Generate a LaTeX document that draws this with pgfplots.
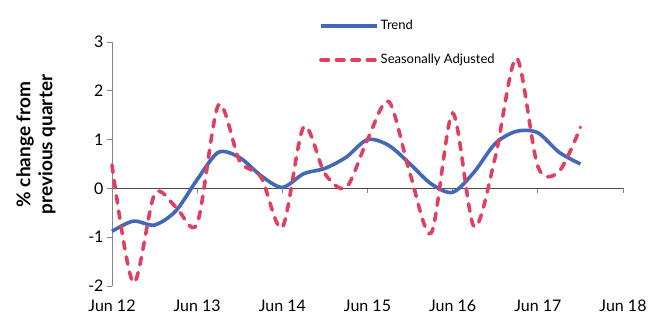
\documentclass[border=0pt]{standalone}
\usepackage{pgfplots}
\pgfplotsset{compat=1.18}
\usepackage{fontspec}
\setmainfont{Lato}
\definecolor{trendblue}{RGB}{68,104,184}
\definecolor{sared}{RGB}{224,64,96}
\definecolor{axgray}{RGB}{134,134,134}
\begin{document}
\begin{tikzpicture}
\useasboundingbox (-112bp,-31bp) rectangle (537bp,286bp);
\begin{axis}[
  at={(0,0)}, anchor=south west,
  scale only axis, width=511bp, height=244bp,
  xmin=0, xmax=24, ymin=-2, ymax=3,
  axis y line=left, axis x line=middle,
  axis line style={-, draw=axgray, line width=0.8pt},
  x axis line style={draw=black!70},
  xtick={0,4,8,12,16,20,24},
  xticklabels={Jun 12,Jun 13,Jun 14,Jun 15,Jun 16,Jun 17,Jun 18},
  hide obscured x ticks=false,
  ytick={-2,-1,0,1,2,3},
  yticklabels={{-2},{-1},0,1,2,3},
  tick align=outside,
  major tick length=5bp,
  tick style={draw=axgray, line width=0.8pt},
  xticklabel style={font=\fontsize{16bp}{18bp}\selectfont, yshift=-103bp},
  yticklabel style={font=\fontsize{16bp}{18bp}\selectfont},
  ylabel={\% change from\\previous quarter},
  ylabel style={font=\bfseries\fontsize{19bp}{22bp}\selectfont, align=center, at={(axis description cs:-0.149,0.58)}, anchor=center, rotate=0},
  clip=false,
  legend style={at={(axis description cs:0.405,1)}, anchor=north west, yshift=24bp, draw=none, fill=none, inner sep=0pt, row sep=19bp, font=\fontsize{13bp}{15bp}\selectfont, legend cell align=left},
  legend image code/.code={\draw[#1] (0bp,0bp) -- (56bp,0bp);},
]
\addplot[trendblue, line width=3.6bp, smooth] coordinates {
(0,-0.88) (1,-0.67) (2,-0.75) (3,-0.46) (4,0.18) (5,0.74) (6,0.63) (7,0.26)
(8,0.02) (9,0.30) (10,0.41) (11,0.64) (12,1.00) (13,0.88) (14,0.50) (15,0.09)
(16,-0.08) (17,0.33) (18,0.92) (19,1.17) (20,1.14) (21,0.74) (22,0.50)
};
\addlegendentry{Trend}
\addplot[sared, line width=3.6bp, smooth, dash pattern=on 7.5bp off 8bp, line cap=round] coordinates {
(0,0.48) (1,-1.93) (2,-0.12) (3,-0.38) (4,-0.72) (5,1.71) (6,0.56) (7,0.23)
(8,-0.80) (9,1.26) (10,0.30) (11,0.02) (12,1.00) (13,1.78) (14,0.30) (15,-0.91)
(16,1.54) (17,-0.78) (18,0.64) (19,2.67) (20,0.45) (21,0.35) (22,1.25)
};
\addlegendentry{Seasonally Adjusted}
\end{axis}
\end{tikzpicture}
\end{document}
